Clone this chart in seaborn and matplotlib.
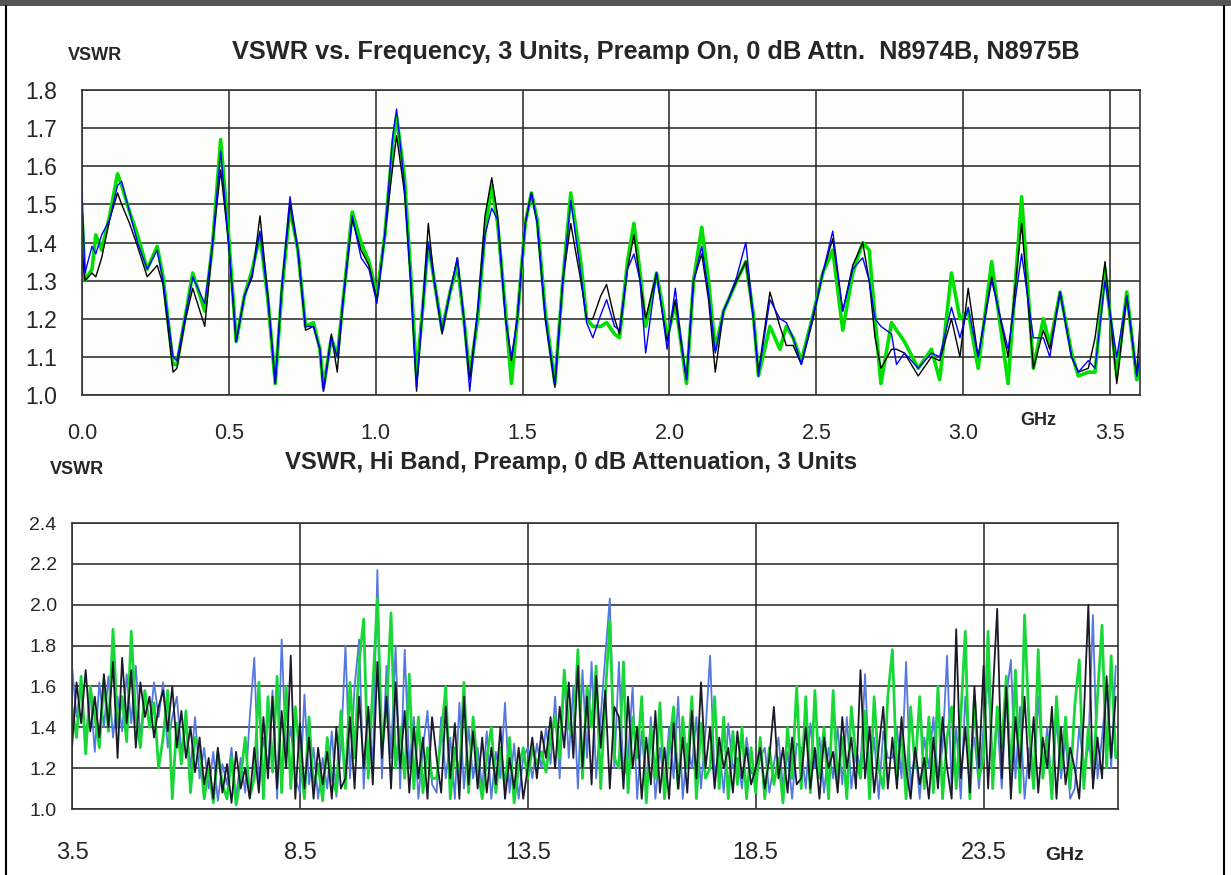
import numpy as np
import pandas as pd
import matplotlib
matplotlib.use("Agg")
import matplotlib.pyplot as plt
from matplotlib.lines import Line2D
from matplotlib.patches import Rectangle
import seaborn as sns

# ------------------------------------------------------------
# Top panel: low band 0 - 3.6 GHz (values read at peaks/troughs)
# ------------------------------------------------------------
lo_freq = [0.000, 0.010, 0.034, 0.047, 0.067, 0.094, 0.121, 0.135, 0.162, 0.189,
           0.222, 0.256, 0.276, 0.310, 0.323, 0.350, 0.377, 0.418, 0.445, 0.472,
           0.499, 0.525, 0.553, 0.580, 0.606, 0.633, 0.658, 0.680, 0.708, 0.735,
           0.761, 0.788, 0.810, 0.822, 0.849, 0.869, 0.889, 0.920, 0.950, 0.977,
           1.004, 1.031, 1.058, 1.071, 1.098, 1.119, 1.139, 1.159, 1.179, 1.199,
           1.226, 1.253, 1.278, 1.300, 1.320, 1.347, 1.372, 1.395, 1.415, 1.442,
           1.462, 1.482, 1.509, 1.530, 1.550, 1.577, 1.610, 1.637, 1.664, 1.698,
           1.718, 1.739, 1.766, 1.786, 1.813, 1.830, 1.857, 1.879, 1.900, 1.919,
           1.956, 1.975, 1.992, 2.020, 2.037, 2.058, 2.082, 2.110, 2.133, 2.156,
           2.184, 2.201, 2.229, 2.260, 2.286, 2.303, 2.342, 2.376, 2.398, 2.421,
           2.449, 2.489, 2.522, 2.556, 2.590, 2.624, 2.658, 2.680, 2.700, 2.720,
           2.756, 2.773, 2.800, 2.847, 2.892, 2.920, 2.960, 2.989, 3.017, 3.051,
           3.097, 3.153, 3.199, 3.239, 3.273, 3.295, 3.330, 3.369, 3.392, 3.426,
           3.449, 3.483, 3.523, 3.557, 3.591, 3.602]

lo_black = [1.38, 1.30, 1.32, 1.31, 1.36, 1.46, 1.53, 1.50, 1.45, 1.39,
            1.31, 1.34, 1.29, 1.06, 1.07, 1.19, 1.28, 1.18, 1.40, 1.59,
            1.40, 1.14, 1.26, 1.31, 1.47, 1.26, 1.03, 1.28, 1.50, 1.38,
            1.17, 1.18, 1.12, 1.01, 1.16, 1.06, 1.25, 1.46, 1.38, 1.34,
            1.25, 1.42, 1.60, 1.68, 1.53, 1.30, 1.01, 1.22, 1.45, 1.30,
            1.16, 1.27, 1.36, 1.20, 1.04, 1.22, 1.47, 1.57, 1.47, 1.20,
            1.09, 1.20, 1.45, 1.53, 1.45, 1.20, 1.02, 1.30, 1.45, 1.30,
            1.20, 1.20, 1.26, 1.29, 1.20, 1.16, 1.33, 1.42, 1.30, 1.20,
            1.32, 1.22, 1.14, 1.25, 1.15, 1.04, 1.30, 1.37, 1.25, 1.06,
            1.22, 1.25, 1.30, 1.35, 1.20, 1.06, 1.27, 1.18, 1.13, 1.13,
            1.08, 1.20, 1.32, 1.41, 1.22, 1.34, 1.40, 1.30, 1.15, 1.07,
            1.12, 1.12, 1.11, 1.05, 1.10, 1.09, 1.20, 1.10, 1.28, 1.10,
            1.31, 1.10, 1.45, 1.07, 1.17, 1.12, 1.27, 1.10, 1.06, 1.07,
            1.15, 1.35, 1.03, 1.26, 1.05, 1.19]

lo_blue = [1.54, 1.32, 1.39, 1.37, 1.42, 1.46, 1.55, 1.56, 1.48, 1.40,
           1.33, 1.38, 1.30, 1.10, 1.09, 1.20, 1.31, 1.24, 1.40, 1.64,
           1.40, 1.14, 1.26, 1.32, 1.43, 1.25, 1.03, 1.28, 1.52, 1.38,
           1.18, 1.18, 1.12, 1.01, 1.15, 1.10, 1.25, 1.47, 1.36, 1.33,
           1.24, 1.42, 1.68, 1.75, 1.55, 1.30, 1.02, 1.22, 1.40, 1.30,
           1.17, 1.27, 1.36, 1.20, 1.01, 1.22, 1.42, 1.49, 1.46, 1.20,
           1.10, 1.20, 1.45, 1.53, 1.45, 1.21, 1.03, 1.30, 1.51, 1.32,
           1.19, 1.15, 1.21, 1.25, 1.18, 1.17, 1.33, 1.37, 1.30, 1.11,
           1.32, 1.22, 1.12, 1.28, 1.16, 1.04, 1.30, 1.39, 1.27, 1.11,
           1.22, 1.25, 1.31, 1.40, 1.20, 1.05, 1.25, 1.20, 1.19, 1.15,
           1.08, 1.21, 1.32, 1.43, 1.22, 1.33, 1.36, 1.30, 1.20, 1.18,
           1.16, 1.08, 1.11, 1.07, 1.11, 1.10, 1.23, 1.15, 1.23, 1.10,
           1.30, 1.12, 1.37, 1.15, 1.15, 1.10, 1.27, 1.10, 1.06, 1.09,
           1.07, 1.30, 1.10, 1.26, 1.05, 1.10]

lo_green = [1.47, 1.30, 1.33, 1.42, 1.38, 1.47, 1.58, 1.55, 1.48, 1.42,
            1.33, 1.39, 1.31, 1.08, 1.08, 1.20, 1.32, 1.22, 1.40, 1.67,
            1.42, 1.14, 1.26, 1.33, 1.42, 1.25, 1.03, 1.27, 1.49, 1.38,
            1.18, 1.19, 1.12, 1.02, 1.15, 1.10, 1.25, 1.48, 1.40, 1.35,
            1.26, 1.42, 1.66, 1.73, 1.57, 1.32, 1.05, 1.22, 1.40, 1.30,
            1.17, 1.27, 1.34, 1.20, 1.05, 1.20, 1.43, 1.55, 1.45, 1.22,
            1.03, 1.20, 1.45, 1.53, 1.46, 1.22, 1.03, 1.30, 1.53, 1.35,
            1.20, 1.18, 1.18, 1.19, 1.16, 1.15, 1.35, 1.45, 1.32, 1.18,
            1.32, 1.24, 1.15, 1.24, 1.15, 1.03, 1.30, 1.44, 1.30, 1.12,
            1.22, 1.25, 1.30, 1.35, 1.21, 1.05, 1.18, 1.12, 1.18, 1.15,
            1.09, 1.21, 1.32, 1.38, 1.17, 1.32, 1.40, 1.38, 1.20, 1.03,
            1.19, 1.17, 1.14, 1.07, 1.12, 1.04, 1.32, 1.20, 1.22, 1.07,
            1.35, 1.03, 1.52, 1.07, 1.20, 1.13, 1.27, 1.11, 1.05, 1.06,
            1.06, 1.33, 1.05, 1.27, 1.04, 1.08]

# ------------------------------------------------------------
# Bottom panel: high band 3.5 - 26.4 GHz, one value per 0.1 GHz
# ------------------------------------------------------------
hi_black = [
    1.30, 1.62, 1.42, 1.68, 1.38, 1.55, 1.35, 1.66, 1.40, 1.72,
    1.25, 1.74, 1.42, 1.68, 1.30, 1.62, 1.45, 1.55, 1.35, 1.50,
    1.58, 1.38, 1.60, 1.30, 1.48, 1.25, 1.40, 1.18, 1.35, 1.12,
    1.25, 1.05, 1.30, 1.08, 1.22, 1.03, 1.28, 1.10, 1.20, 1.05,
    1.30, 1.08, 1.45, 1.15, 1.55, 1.10, 1.48, 1.20, 1.75, 1.05,
    1.42, 1.10, 1.35, 1.05, 1.30, 1.12, 1.28, 1.05, 1.40, 1.10,
    1.15, 1.45, 1.10, 1.55, 1.20, 1.50, 1.12, 1.72, 1.25, 1.55,
    1.10, 1.62, 1.20, 1.48, 1.08, 1.40, 1.15, 1.35, 1.05, 1.45,
    1.25, 1.08, 1.50, 1.15, 1.42, 1.05, 1.55, 1.12, 1.38, 1.10,
    1.35, 1.08, 1.30, 1.12, 1.40, 1.05, 1.25, 1.10, 1.30, 1.05,
    1.20, 1.35, 1.15, 1.38, 1.25, 1.45, 1.20, 1.50, 1.30, 1.62,
    1.25, 1.70, 1.20, 1.55, 1.12, 1.65, 1.30, 1.58, 1.10, 1.50,
    1.45, 1.10, 1.55, 1.20, 1.40, 1.05, 1.35, 1.12, 1.48, 1.08,
    1.30, 1.05, 1.42, 1.10, 1.35, 1.08, 1.48, 1.15, 1.62, 1.20,
    1.40, 1.10, 1.35, 1.20, 1.30, 1.08, 1.38, 1.15, 1.30, 1.12,
    1.20, 1.30, 1.10, 1.25, 1.50, 1.15, 1.30, 1.08, 1.35, 1.12,
    1.15, 1.40, 1.10, 1.30, 1.05, 1.35, 1.20, 1.28, 1.08, 1.45,
    1.20, 1.35, 1.10, 1.68, 1.15, 1.40, 1.08, 1.30, 1.50, 1.10,
    1.35, 1.10, 1.45, 1.20, 1.05, 1.30, 1.12, 1.25, 1.05, 1.35,
    1.10, 1.45, 1.20, 1.05, 1.88, 1.15, 1.40, 1.08, 1.60, 1.20,
    1.70, 1.10, 1.55, 1.98, 1.15, 1.60, 1.05, 1.45, 1.20, 1.55,
    1.15, 1.45, 1.08, 1.35, 1.20, 1.50, 1.05, 1.40, 1.12, 1.30,
    1.20, 1.05, 1.45, 2.00, 1.10, 1.35, 1.15, 1.65, 1.25, 1.55]

hi_blue = [
    1.70, 1.45, 1.60, 1.33, 1.58, 1.28, 1.62, 1.40, 1.65, 1.35,
    1.55, 1.38, 1.66, 1.42, 1.70, 1.35, 1.58, 1.40, 1.62, 1.45,
    1.62, 1.30, 1.45, 1.55, 1.28, 1.42, 1.20, 1.45, 1.15, 1.30,
    1.10, 1.28, 1.04, 1.22, 1.12, 1.30, 1.05, 1.25, 1.08, 1.45,
    1.74, 1.10, 1.35, 1.20, 1.58, 1.05, 1.83, 1.25, 1.40, 1.15,
    1.08, 1.56, 1.12, 1.30, 1.05, 1.25, 1.10, 1.38, 1.06, 1.30,
    1.80, 1.15, 1.60, 1.83, 1.10, 1.50, 1.20, 2.17, 1.15, 1.70,
    1.25, 1.80, 1.10, 1.78, 1.20, 1.45, 1.05, 1.30, 1.48, 1.12,
    1.08, 1.45, 1.15, 1.35, 1.05, 1.52, 1.10, 1.40, 1.15, 1.30,
    1.10, 1.38, 1.05, 1.28, 1.15, 1.52, 1.08, 1.32, 1.05, 1.25,
    1.30, 1.15, 1.32, 1.20, 1.40, 1.22, 1.55, 1.15, 1.65, 1.25,
    1.60, 1.10, 1.68, 1.25, 1.72, 1.15, 1.45, 1.75, 2.03, 1.20,
    1.72, 1.15, 1.25, 1.60, 1.05, 1.38, 1.10, 1.45, 1.05, 1.30,
    1.10, 1.40, 1.15, 1.55, 1.05, 1.32, 1.20, 1.45, 1.10, 1.38,
    1.75, 1.15, 1.30, 1.08, 1.42, 1.20, 1.25, 1.10, 1.35, 1.18,
    1.15, 1.25, 1.30, 1.08, 1.22, 1.35, 1.10, 1.28, 1.05, 1.32,
    1.30, 1.10, 1.42, 1.20, 1.35, 1.08, 1.30, 1.15, 1.40, 1.12,
    1.45, 1.10, 1.30, 1.20, 1.66, 1.15, 1.35, 1.05, 1.38, 1.25,
    1.25, 1.40, 1.15, 1.72, 1.10, 1.30, 1.05, 1.35, 1.20, 1.45,
    1.15, 1.30, 1.75, 1.10, 1.40, 1.05, 1.55, 1.25, 1.35, 1.10,
    1.40, 1.65, 1.20, 1.45, 1.10, 1.55, 1.73, 1.15, 1.50, 1.05,
    1.30, 1.10, 1.55, 1.20, 1.40, 1.08, 1.45, 1.15, 1.35, 1.05,
    1.10, 1.40, 1.20, 1.30, 1.95, 1.15, 1.35, 1.60, 1.20, 1.70]

hi_green = [
    1.50, 1.35, 1.65, 1.27, 1.60, 1.45, 1.30, 1.63, 1.38, 1.88,
    1.40, 1.55, 1.33, 1.87, 1.45, 1.30, 1.58, 1.40, 1.52, 1.20,
    1.35, 1.58, 1.05, 1.42, 1.22, 1.48, 1.08, 1.35, 1.30, 1.05,
    1.20, 1.03, 1.28, 1.12, 1.05, 1.25, 1.02, 1.15, 1.35, 1.06,
    1.15, 1.62, 1.05, 1.55, 1.18, 1.65, 1.08, 1.60, 1.10, 1.50,
    1.25, 1.05, 1.45, 1.10, 1.22, 1.04, 1.35, 1.15, 1.08, 1.48,
    1.10, 1.62, 1.25, 1.72, 1.93, 1.15, 1.60, 2.03, 1.30, 1.48,
    1.96, 1.20, 1.40, 1.15, 1.66, 1.10, 1.45, 1.08, 1.30, 1.15,
    1.15, 1.35, 1.60, 1.05, 1.30, 1.15, 1.62, 1.08, 1.45, 1.20,
    1.05, 1.25, 1.40, 1.08, 1.30, 1.10, 1.35, 1.03, 1.20, 1.30,
    1.15, 1.30, 1.22, 1.28, 1.18, 1.35, 1.45, 1.25, 1.68, 1.40,
    1.35, 1.78, 1.15, 1.60, 1.40, 1.70, 1.10, 1.55, 1.92, 1.25,
    1.20, 1.72, 1.08, 1.45, 1.25, 1.55, 1.03, 1.40, 1.15, 1.52,
    1.05, 1.30, 1.50, 1.10, 1.45, 1.20, 1.55, 1.05, 1.42, 1.15,
    1.20, 1.55, 1.10, 1.45, 1.05, 1.38, 1.12, 1.40, 1.05, 1.30,
    1.08, 1.35, 1.05, 1.30, 1.12, 1.25, 1.03, 1.40, 1.15, 1.60,
    1.10, 1.55, 1.08, 1.58, 1.15, 1.40, 1.05, 1.58, 1.12, 1.35,
    1.05, 1.50, 1.25, 1.15, 1.48, 1.05, 1.55, 1.20, 1.10, 1.55,
    1.78, 1.15, 1.40, 1.05, 1.50, 1.20, 1.55, 1.10, 1.45, 1.08,
    1.60, 1.05, 1.35, 1.50, 1.10, 1.45, 1.87, 1.05, 1.55, 1.15,
    1.25, 1.87, 1.10, 1.50, 1.30, 1.65, 1.15, 1.68, 1.08, 1.95,
    1.40, 1.10, 1.78, 1.15, 1.35, 1.05, 1.55, 1.20, 1.45, 1.10,
    1.50, 1.73, 1.10, 1.40, 1.15, 1.55, 1.90, 1.20, 1.75, 1.25]

hi_freq = np.round(np.arange(len(hi_black)) * 0.1 + 3.5, 2)

lo_ticks = [0.0, 0.5, 1.0, 1.5, 2.0, 2.5, 3.0, 3.5]
lo_yticks = [1.0, 1.1, 1.2, 1.3, 1.4, 1.5, 1.6, 1.7, 1.8]
hi_ticks = [3.5, 8.5, 13.5, 18.5, 23.5]
hi_yticks = [1.0, 1.2, 1.4, 1.6, 1.8, 2.0, 2.2, 2.4]

# ------------------------------------------------------------
# Figure
# ------------------------------------------------------------
sns.set_theme(style="white")
plt.rcParams['font.family'] = ['Liberation Sans', 'DejaVu Sans']

W, H = 1231, 875
fig = plt.figure(figsize=(W / 100, H / 100), dpi=100)
fig.patch.set_facecolor("white")

def fx(px):
    return px / W

def fy(py):
    return 1 - py / H

# outer frame and dark title bar
fig.add_artist(Rectangle((0, fy(6)), 1, 6 / H, transform=fig.transFigure,
                         facecolor="#555555", edgecolor="none"))
fig.add_artist(Line2D([fx(6), fx(6)], [0, fy(6)], transform=fig.transFigure, color="black", lw=1.5))
fig.add_artist(Line2D([fx(1224), fx(1224)], [0, fy(6)], transform=fig.transFigure, color="black", lw=1.5))

ax1 = fig.add_axes([fx(82), fy(395), fx(1140 - 82), (395 - 90) / H])
ax2 = fig.add_axes([fx(72), fy(809), fx(1118 - 72), (809 - 523) / H])

lo = pd.DataFrame({"f": lo_freq, "k": lo_black, "b": lo_blue, "g": lo_green})
hi = pd.DataFrame({"f": hi_freq, "k": hi_black, "b": hi_blue, "g": hi_green})

sns.lineplot(data=lo, x="f", y="g", ax=ax1, color="#00e000", lw=2.6, sort=False, estimator=None)
sns.lineplot(data=lo, x="f", y="k", ax=ax1, color="black", lw=1.0, sort=False, estimator=None)
sns.lineplot(data=lo, x="f", y="b", ax=ax1, color="#0000ff", lw=1.0, sort=False, estimator=None)

sns.lineplot(data=hi, x="f", y="b", ax=ax2, color="#5577e0", lw=1.3, sort=False, estimator=None)
sns.lineplot(data=hi, x="f", y="g", ax=ax2, color="#18d838", lw=2.0, sort=False, estimator=None)
sns.lineplot(data=hi, x="f", y="k", ax=ax2, color="#1a1a2a", lw=1.3, sort=False, estimator=None)

for ax in (ax1, ax2):
    ax.set_xlabel("")
    ax.set_ylabel("")
    ax.grid(True, color="#222222", lw=1.1)
    ax.set_axisbelow(True)
    ax.tick_params(length=0)
    for s in ax.spines.values():
        s.set_color("#333333")
        s.set_linewidth(1.2)

ax1.set_facecolor("#fdfefc")
ax1.set_xlim(0, 3.602)
ax1.set_ylim(1.0, 1.8)
ax1.set_xticks(lo_ticks)
ax1.set_xticklabels([f"{t:.1f}" for t in lo_ticks], fontsize=15.5)
ax1.set_yticks(lo_yticks)
ax1.set_yticklabels([f"{t:.1f}" for t in lo_yticks], fontsize=16.5)
ax1.tick_params(axis="x", pad=20)
ax1.tick_params(axis="y", pad=18)

ax2.set_xlim(3.5, 26.45)
ax2.set_ylim(1.0, 2.4)
ax2.set_xticks(hi_ticks)
ax2.set_xticklabels([f"{t:.1f}" for t in hi_ticks], fontsize=17)
ax2.set_yticks(hi_yticks)
ax2.set_yticklabels([f"{t:.1f}" for t in hi_yticks], fontsize=14)
ax2.tick_params(axis="x", pad=24)
ax2.tick_params(axis="y", pad=11)

# titles and unit labels
fig.text(fx(68), fy(55), "VSWR", fontsize=13, fontweight="bold", va="center", ha="left")
fig.text(fx(232), fy(52), "VSWR vs. Frequency, 3 Units, Preamp On, 0 dB Attn.  N8974B, N8975B",
         fontsize=18.3, fontweight="bold", va="center", ha="left")
fig.text(fx(1020), fy(421), "GHz", fontsize=13, fontweight="bold", va="center", ha="left")

fig.text(fx(50), fy(469), "VSWR", fontsize=13, fontweight="bold", va="center", ha="left")
fig.text(fx(285), fy(463), "VSWR, Hi Band, Preamp, 0 dB Attenuation, 3 Units",
         fontsize=17.2, fontweight="bold", va="center", ha="left")
fig.text(fx(1045), fy(856), "GHz", fontsize=14, fontweight="bold", va="center", ha="left")

fig.savefig("out.png", dpi=100)
